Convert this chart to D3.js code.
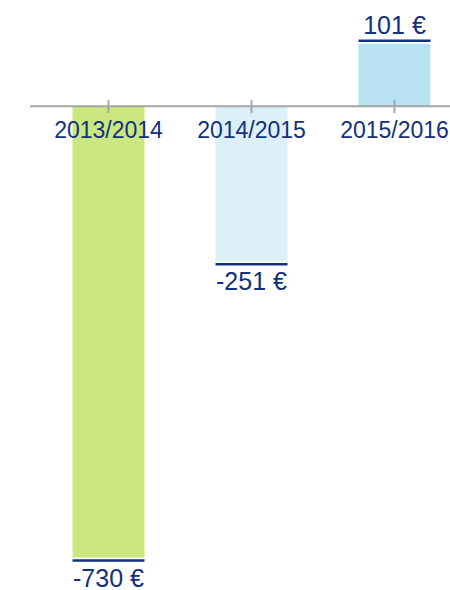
<!DOCTYPE html>
<html>
<head>
<meta charset="utf-8">
<script src="https://cdn.jsdelivr.net/npm/d3@7"></script>
<style>
  body { margin: 0; background: #fff; }
  text { font-family: Arial, "Liberation Sans", sans-serif; }
</style>
</head>
<body>
<div id="chart"></div>
<script>
var seasons = ['2013/2014', '2014/2015', '2015/2016'];
var values = [-730, -251, 101];
var colors = ['#cbe77f', '#dcf0f9', '#b8e2f2'];
var valueLabels = ['-730 €', '-251 €', '101 €'];

var width = 450, height = 590;
var textColor = '#12307d';
var axisColor = '#a6a6a6';

var svg = d3.select('#chart').append('svg')
    .attr('width', width)
    .attr('height', height);

var x = d3.scaleBand()
    .domain(seasons)
    .range([37, 466]);

var y = d3.scaleLinear()
    .domain([-730, 101])
    .range([557.5, 43.7]);

var barW = 72;

// bars
svg.selectAll('rect.bar')
    .data(values)
    .enter().append('rect')
    .attr('class', 'bar')
    .attr('x', function(d, i){ return x(seasons[i]) + x.bandwidth() / 2 - barW / 2; })
    .attr('y', function(d){ return Math.min(y(d), y(0)); })
    .attr('width', barW)
    .attr('height', function(d){ return Math.abs(y(d) - y(0)); })
    .attr('fill', function(d, i){ return colors[i]; });

// zero axis
svg.append('line')
    .attr('x1', 30).attr('x2', width)
    .attr('y1', y(0)).attr('y2', y(0))
    .attr('stroke', axisColor)
    .attr('stroke-width', 2);

svg.selectAll('line.tick')
    .data(seasons)
    .enter().append('line')
    .attr('class', 'tick')
    .attr('x1', function(d){ return x(d) + x.bandwidth() / 2; })
    .attr('x2', function(d){ return x(d) + x.bandwidth() / 2; })
    .attr('y1', y(0) - 6).attr('y2', y(0) + 7)
    .attr('stroke', axisColor)
    .attr('stroke-width', 2);

// category labels
svg.selectAll('text.cat')
    .data(seasons)
    .enter().append('text')
    .attr('class', 'cat')
    .attr('x', function(d){ return x(d) + x.bandwidth() / 2; })
    .attr('y', y(0) + 32)
    .attr('text-anchor', 'middle')
    .attr('font-size', 23)
    .attr('fill', textColor)
    .text(function(d){ return d; });

// value underline + labels
svg.selectAll('line.under')
    .data(values)
    .enter().append('line')
    .attr('class', 'under')
    .attr('x1', function(d, i){ return x(seasons[i]) + x.bandwidth() / 2 - barW / 2; })
    .attr('x2', function(d, i){ return x(seasons[i]) + x.bandwidth() / 2 + barW / 2; })
    .attr('y1', function(d){ return d < 0 ? y(d) + 3 : y(d) - 3; })
    .attr('y2', function(d){ return d < 0 ? y(d) + 3 : y(d) - 3; })
    .attr('stroke', textColor)
    .attr('stroke-width', 2.5);

svg.selectAll('text.val')
    .data(values)
    .enter().append('text')
    .attr('class', 'val')
    .attr('x', function(d, i){ return x(seasons[i]) + x.bandwidth() / 2; })
    .attr('y', function(d){ return d < 0 ? y(d) + 29 : y(d) - 10; })
    .attr('text-anchor', 'middle')
    .attr('font-size', 25)
    .attr('fill', textColor)
    .text(function(d, i){ return valueLabels[i]; });
</script>
</body>
</html>
